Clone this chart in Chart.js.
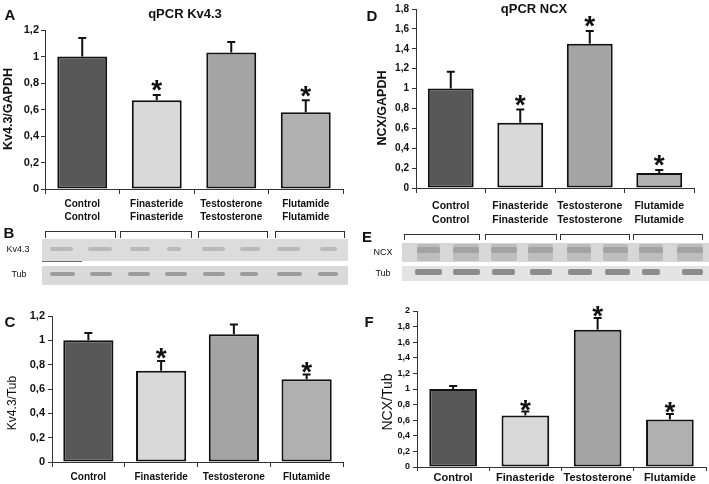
<!DOCTYPE html>
<html>
<head>
<meta charset="utf-8">
<script src="https://cdn.jsdelivr.net/npm/chart.js@4/dist/chart.umd.min.js"></script>
<style>
  body { margin: 0; background: #fff; }
  #fig { position: relative; width: 709px; height: 484px; overflow: hidden; font-family: "Liberation Sans", Arial, sans-serif; color: #111; }
  #fig canvas { position: absolute; }
  .txt { position: absolute; white-space: nowrap; transform: translate(-50%, -50%); line-height: 1; }
  .rot { transform: translate(-50%, -50%) rotate(-90deg); }
  .letter { font-weight: bold; font-size: 15px; }
  .strip { position: absolute; }
  .band { position: absolute; border-radius: 2px; filter: blur(0.7px); }
  .bracket { position: absolute; border: 1.2px solid #333; border-bottom: none; box-sizing: border-box; }
</style>
</head>
<body>
<div id="fig">
  <canvas id="chartA" width="354" height="228" style="left:0;top:0"></canvas>
  <canvas id="chartD" width="355" height="228" style="left:354px;top:0"></canvas>
  <canvas id="chartC" width="354" height="194" style="left:0;top:290px"></canvas>
  <canvas id="chartF" width="355" height="194" style="left:354px;top:290px"></canvas>

  <div class="txt letter" style="left:10px;top:14px">A</div>
  <div class="txt letter" style="left:9px;top:232px">B</div>
  <div class="txt letter" style="left:10px;top:321px">C</div>
  <div class="txt letter" style="left:372px;top:15px">D</div>
  <div class="txt letter" style="left:367px;top:236px">E</div>
  <div class="txt letter" style="left:369px;top:321px">F</div>

  <div class="txt" style="left:185px;top:13px;font-weight:bold;font-size:13px">qPCR Kv4.3</div>
  <div class="txt" style="left:534px;top:8px;font-weight:bold;font-size:13px">qPCR NCX</div>

  <div class="txt rot" style="left:8px;top:109px;font-weight:bold;font-size:12.5px">Kv4.3/GAPDH</div>
  <div class="txt rot" style="left:382px;top:108px;font-weight:bold;font-size:12.5px">NCX/GAPDH</div>
  <div class="txt rot" style="left:12px;top:403px;font-size:12px">Kv4.3/Tub</div>
  <div class="txt rot" style="left:387px;top:402px;font-size:14px">NCX/Tub</div>

  <div class="txt" style="left:18px;top:249px;font-size:9px">Kv4.3</div>
  <div class="txt" style="left:19px;top:274px;font-size:9px">Tub</div>
  <div class="txt" style="left:383px;top:252px;font-size:9px">NCX</div>
  <div class="txt" style="left:383px;top:273px;font-size:9px">Tub</div>
</div>

<script>
// groups and bar fills
const groups = ['Control', 'Finasteride', 'Testosterone', 'Flutamide'];
const barColors = ['#585858', '#d9d9d9', '#a4a4a4', '#b0b0b0'];

// A: qPCR Kv4.3/GAPDH
const kvGapdh = [1.0, 0.67, 1.03, 0.58];
const kvGapdhSem = [0.14, 0.04, 0.08, 0.09];
const kvGapdhSig = [false, true, false, true];

// C: Kv4.3/Tub (western)
const kvTub = [1.0, 0.75, 1.05, 0.68];
const kvTubSem = [0.06, 0.08, 0.08, 0.04];
const kvTubSig = [false, true, false, true];

// D: qPCR NCX/GAPDH
const ncxGapdh = [1.0, 0.655, 1.45, 0.15];
const ncxGapdhSem = [0.17, 0.135, 0.13, 0.03];
const ncxGapdhSig = [false, true, true, true];

// F: NCX/Tub (western)
const ncxTub = [1.0, 0.66, 1.76, 0.61];
const ncxTubSem = [0.04, 0.05, 0.15, 0.07];
const ncxTubSig = [false, true, true, true];

// y axis ranges
const yMaxKv = 1.2, yMaxNcxGapdh = 1.8, yMaxNcxTub = 2;

// comma decimal tick labels
function fmtTick(v) {
    return (Math.round(v * 10) / 10).toString().replace('.', ',');
}

// draws the upward error bar and the asterisk above each bar
const errorBars = {
    id: 'errorBars',
    afterDatasetsDraw(chart, args, opts) {
        const ctx = chart.ctx;
        const yScale = chart.scales.y;
        const values = chart.data.datasets[0].data;
        ctx.save();
        chart.getDatasetMeta(0).data.forEach((bar, i) => {
            const top = yScale.getPixelForValue(values[i] + opts.sem[i]);
            ctx.strokeStyle = '#111';
            ctx.lineWidth = 2;
            ctx.beginPath();
            ctx.moveTo(bar.x, bar.y);
            ctx.lineTo(bar.x, top);
            ctx.moveTo(bar.x - 4, top);
            ctx.lineTo(bar.x + 4, top);
            ctx.stroke();
            if (opts.sig[i]) {
                const size = 28;
                ctx.fillStyle = '#111';
                ctx.font = 'bold ' + size + 'px "Liberation Sans", Arial';
                ctx.textAlign = 'center';
                ctx.textBaseline = 'alphabetic';
                ctx.fillText('*', bar.x, top - opts.gap + 0.585 * size);
            }
        });
        ctx.restore();
    }
};

function makeChart(id, cfg) {
    return new Chart(document.getElementById(id), {
        type: 'bar',
        data: {
            labels: cfg.labels,
            datasets: [{
                data: cfg.values,
                backgroundColor: barColors,
                borderColor: '#111',
                borderWidth: 2,
                borderSkipped: false,
                categoryPercentage: 1,
                barPercentage: cfg.barPct
            }]
        },
        options: {
            responsive: false,
            animation: false,
            layout: { padding: cfg.padding },
            plugins: {
                legend: { display: false },
                tooltip: { enabled: false },
                errorBars: { sem: cfg.sem, sig: cfg.sig, gap: cfg.starGap }
            },
            scales: {
                x: {
                    grid: { drawOnChartArea: false, tickLength: cfg.xTick, color: '#333', offset: true },
                    border: { color: '#333', width: 1 },
                    ticks: {
                        color: '#111', autoSkip: false, maxRotation: 0, padding: cfg.xPad,
                        font: { family: '"Liberation Sans", Arial', weight: 'bold', size: cfg.xFont, lineHeight: cfg.xLine }
                    },
                    afterFit: s => { s.height = cfg.xHeight; }
                },
                y: {
                    min: 0,
                    max: cfg.max,
                    grid: { drawOnChartArea: false, tickLength: 4, color: '#333' },
                    border: { color: '#333', width: 1 },
                    ticks: {
                        stepSize: 0.2, color: '#111', padding: cfg.yPad, callback: fmtTick,
                        font: { family: '"Liberation Sans", Arial', weight: 'bold', size: cfg.yFont }
                    },
                    afterFit: s => { s.width = cfg.yWidth; }
                }
            }
        },
        plugins: [errorBars]
    });
}

const twoLine = groups.map(g => [g, g]);

makeChart('chartA', {
    labels: twoLine, values: kvGapdh, sem: kvGapdhSem, sig: kvGapdhSig, max: yMaxKv,
    barPct: 0.67, padding: { left: 0, right: 11, top: 30, bottom: 0 },
    yWidth: 45, yFont: 11, yPad: 2, xFont: 10, xLine: 1.3, xPad: 4, xTick: 5, xHeight: 39, starGap: 12
});
makeChart('chartD', {
    labels: twoLine, values: ncxGapdh, sem: ncxGapdhSem, sig: ncxGapdhSig, max: yMaxNcxGapdh,
    barPct: 0.66, padding: { left: 20, right: 15, top: 7, bottom: 0 },
    yWidth: 42, yFont: 10, yPad: 3, xFont: 10.5, xLine: 1.35, xPad: 6, xTick: 5, xHeight: 40, starGap: 12
});
makeChart('chartC', {
    labels: groups, values: kvTub, sem: kvTubSem, sig: kvTubSig, max: yMaxKv,
    barPct: 0.69, padding: { left: 0, right: 11, top: 26, bottom: 0 },
    yWidth: 52, yFont: 11, yPad: 3, xFont: 10, xLine: 1.3, xPad: 4, xTick: 5, xHeight: 22, starGap: 10
});
makeChart('chartF', {
    labels: groups, values: ncxTub, sem: ncxTubSem, sig: ncxTubSig, max: yMaxNcxTub,
    barPct: 0.66, padding: { left: 20, right: 3, top: 21, bottom: 0 },
    yWidth: 43, yFont: 9, yPad: 3, xFont: 11, xLine: 1.2, xPad: 0, xTick: 4, xHeight: 17, starGap: 9
});

// western blot strips (B, E): plain picture, not data
const fig = document.getElementById('fig');
function box(cls, left, top, width, height, bg) {
    const d = document.createElement('div');
    d.className = cls;
    d.style.cssText = `left:${left}px;top:${top}px;width:${width}px;height:${height}px;` + (bg ? `background:${bg}` : '');
    fig.appendChild(d);
}
function bands(spans, top, height, color) {
    spans.forEach(s => box('band', s[0], top, s[1] - s[0], height, color));
}

// lane extents
const lanesKv = [[50, 73], [88, 112], [130, 150], [167, 181], [202, 225], [240, 260], [277, 300], [320, 337]];
const lanesTubB = [[50, 75], [90, 112], [128, 150], [165, 187], [203, 225], [240, 258], [277, 302], [318, 338]];
const lanesNcx = [[417, 440], [453, 479], [491, 517], [528, 553], [567, 591], [603, 628], [639, 663], [677, 703]];
const lanesTubE = [[415, 442], [453, 480], [492, 515], [530, 552], [568, 592], [605, 630], [642, 660], [682, 703]];

// B
box('strip', 42, 239, 306, 22, '#dcdcdc');
box('strip', 42, 266, 306, 19, '#d9d9d9');
bands(lanesKv, 247, 4, '#b9b9b9');
bands(lanesTubB, 272, 4, '#9c9c9c');
box('strip', 42, 261, 40, 1, '#6f6f6f');
[[45, 116], [120, 192], [198, 268], [275, 345]].forEach(s => box('bracket', s[0], 231, s[1] - s[0], 7));

// E
box('strip', 402, 243, 307, 19, '#d7d7d7');
box('strip', 402, 266, 307, 15, '#e3e3e3');
bands(lanesNcx, 244, 17, '#bdbdbd');
bands(lanesNcx, 247, 6, '#a3a3a3');
bands(lanesTubE, 269, 6, '#8c8c8c');
[[404, 480], [485, 557], [560, 630], [633, 703]].forEach(s => box('bracket', s[0], 234, s[1] - s[0], 6));
</script>
</body>
</html>
